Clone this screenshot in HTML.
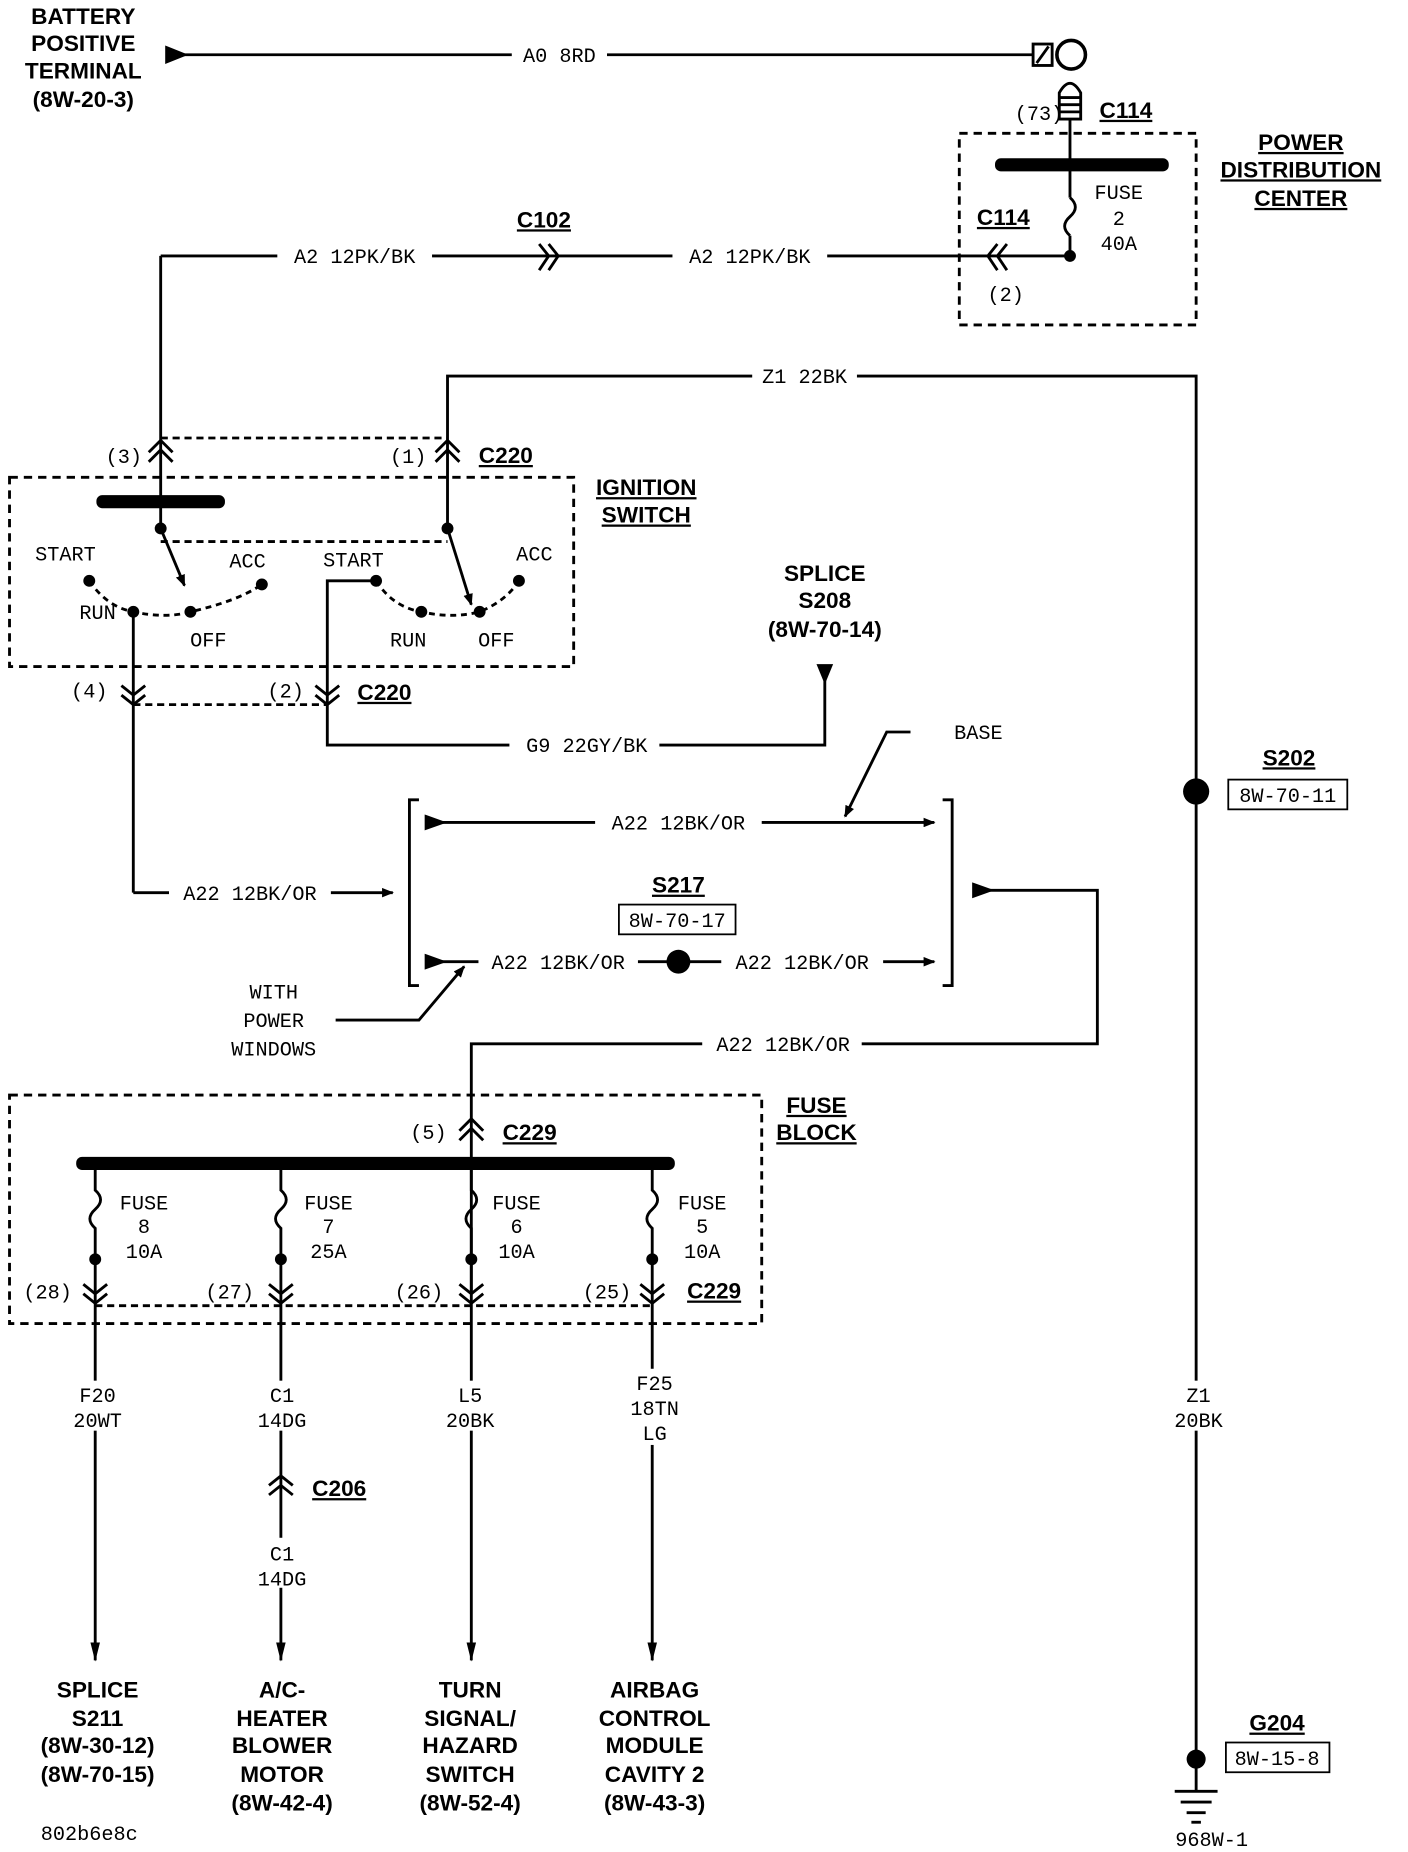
<!DOCTYPE html>
<html><head><meta charset="utf-8"><style>
html,body{margin:0;padding:0;background:#fff}
svg{display:block}
.t{font-family:"Liberation Mono",monospace;font-size:17px;fill:#000}
.b{font-family:"Liberation Sans",sans-serif;font-weight:bold;font-size:19px;fill:#000}
.u{text-decoration:underline}
</style></head><body>
<svg width="1408" height="1852" viewBox="0 0 1183 1556" preserveAspectRatio="none" xmlns="http://www.w3.org/2000/svg">
<defs>
<marker id="ar" markerWidth="10" markerHeight="8" refX="9" refY="4" orient="auto" markerUnits="userSpaceOnUse"><path d="M0,0 L10,4 L0,8 Z" fill="#000"/></marker>
<marker id="ad" markerWidth="16" markerHeight="10" refX="15" refY="5" orient="auto" markerUnits="userSpaceOnUse"><path d="M0,1 L16,5 L0,9 Z" fill="#000"/></marker>
</defs>
<g stroke="#000" stroke-width="2.4" fill="none">
<line x1="150" y1="46" x2="868" y2="46"/>
<path d="M140,40 L155,46 L140,52 Z" fill="#000"/>
<rect x="868" y="37" width="16" height="18"/>
<line x1="871" y1="53" x2="881" y2="39"/>
<circle cx="900" cy="46" r="12" stroke-width="3"/>
<path d="M890,100 L890,78 Q899,62 908,78 L908,100 Z"/>
<line x1="890" y1="82" x2="908" y2="82"/><line x1="890" y1="88" x2="908" y2="88"/><line x1="890" y1="94" x2="908" y2="94"/>
<rect x="806" y="112" width="199" height="161" stroke-dasharray="7,5"/>
<line x1="899" y1="100" x2="899" y2="166"/>
<path d="M899,166 q9,8 0,16 q-9,8 0,16"/>
<line x1="899" y1="198" x2="899" y2="215"/>
<line x1="135" y1="215" x2="899" y2="215"/>
<line x1="135" y1="215" x2="135" y2="440"/>
<path d="M838,205 L830,215 L838,227 M846,205 L838,215 L846,227"/>
<path d="M453,205 L461,215 L453,227 M461,205 L469,215 L461,227"/>
<polyline points="376,440 376,316 1005,316 1005,1478"/>
<line x1="135" y1="368" x2="376" y2="368" stroke-dasharray="6,4"/>
<path d="M125,380 L135,370 L145,380 M125,388 L135,378 L145,388"/>
<path d="M366,380 L376,370 L386,380 M366,388 L376,378 L386,388"/>
<rect x="8" y="401" width="474" height="159" stroke-dasharray="7,5"/>
<line x1="135" y1="455" x2="376" y2="455" stroke-dasharray="6,4"/>
<line x1="135" y1="444" x2="155" y2="492" marker-end="url(#ar)"/>
<line x1="376" y1="444" x2="396" y2="508" marker-end="url(#ar)"/>
<path d="M75,488 Q90,510 112,514 Q140,520 160,514 Q200,505 220,491" stroke-dasharray="5,4"/>
<path d="M316,488 Q330,510 354,514 Q380,520 403,514 Q425,505 436,488" stroke-dasharray="5,4"/>
<polyline points="316,488 275,488 275,626 693,626 693,565"/>
<line x1="112" y1="514" x2="112" y2="750"/>
<line x1="112" y1="750" x2="330" y2="750" marker-end="url(#ar)"/>
<line x1="112" y1="592" x2="275" y2="592" stroke-dasharray="6,4"/>
<path d="M102,576 L112,584 L122,576 M102,584 L112,592 L122,584"/>
<path d="M265,576 L275,584 L285,576 M265,584 L275,592 L285,584"/>
<polyline points="352,672 344,672 344,828 352,828"/>
<polyline points="792,672 800,672 800,828 792,828"/>
<line x1="360" y1="691" x2="785" y2="691" marker-end="url(#ar)"/>
<path d="M358,686 L372,691 L358,696 Z" fill="#000"/>
<line x1="360" y1="808" x2="785" y2="808" marker-end="url(#ar)"/>
<path d="M358,803 L372,808 L358,813 Z" fill="#000"/>
<polyline points="818,748 922,748 922,877 396,877 396,1085"/>
<path d="M818,743 L832,748 L818,753 Z" fill="#000"/>
<polyline points="765,615 745,615 710,686" marker-end="url(#ar)"/>
<polyline points="282,857 352,857 390,812" marker-end="url(#ar)"/>
<rect x="520" y="760" width="98" height="25" stroke-width="1.5"/>
<rect x="1032" y="655" width="100" height="25" stroke-width="1.5"/>
<rect x="8" y="920" width="632" height="192" stroke-dasharray="7,5"/>
<path d="M386,950 L396,940 L406,950 M386,958 L396,948 L406,958"/>
<line x1="80" y1="1097" x2="548" y2="1097" stroke-dasharray="6,4"/>
<path d="M80,977 L80,1000 q9,8 0,16 q-9,8 0,16 L80,1395" marker-end="url(#ad)"/>
<path d="M236,977 L236,1000 q9,8 0,16 q-9,8 0,16 L236,1395" marker-end="url(#ad)"/>
<path d="M396,977 L396,1000 q9,8 0,16 q-9,8 0,16 L396,1395" marker-end="url(#ad)"/>
<path d="M548,977 L548,1000 q9,8 0,16 q-9,8 0,16 L548,1395" marker-end="url(#ad)"/>
<path d="M70,1079 L80,1087 L90,1079 M70,1087 L80,1095 L90,1087"/>
<path d="M226,1079 L236,1087 L246,1079 M226,1087 L236,1095 L246,1087"/>
<path d="M386,1079 L396,1087 L406,1079 M386,1087 L396,1095 L406,1087"/>
<path d="M538,1079 L548,1087 L558,1079 M538,1087 L548,1095 L558,1087"/>
<path d="M226,1248 L236,1240 L246,1248 M226,1256 L236,1248 L246,1256"/>
<rect x="1030" y="1464" width="87" height="25" stroke-width="1.5"/>
<line x1="1005" y1="1478" x2="1005" y2="1505"/>
<line x1="987" y1="1505" x2="1023" y2="1505"/>
<line x1="992" y1="1514" x2="1018" y2="1514"/>
<line x1="997" y1="1523" x2="1013" y2="1523"/>
<line x1="1001" y1="1531" x2="1009" y2="1531"/>
</g>
<path d="M686,558 L700,558 L693,575 Z" fill="#000"/>
<g fill="#000">
<rect x="836" y="133" width="146" height="11" rx="5"/>
<rect x="81" y="416" width="108" height="11" rx="5"/>
<rect x="64" y="972" width="503" height="11" rx="5"/>
<circle cx="899" cy="215" r="5"/>
<circle cx="135" cy="444" r="5"/><circle cx="376" cy="444" r="5"/>
<circle cx="75" cy="488" r="5"/><circle cx="112" cy="514" r="5"/><circle cx="160" cy="514" r="5"/><circle cx="220" cy="491" r="5"/>
<circle cx="316" cy="488" r="5"/><circle cx="354" cy="514" r="5"/><circle cx="403" cy="514" r="5"/><circle cx="436" cy="488" r="5"/>
<circle cx="570" cy="808" r="10"/>
<circle cx="1005" cy="665" r="11"/>
<circle cx="1005" cy="1478" r="8"/>
<circle cx="80" cy="1058" r="5"/><circle cx="236" cy="1058" r="5"/><circle cx="396" cy="1058" r="5"/><circle cx="548" cy="1058" r="5"/>
</g>
<g fill="#fff">
<rect x="430" y="36" width="80" height="20"/>
<rect x="233" y="205" width="130" height="20"/>
<rect x="565" y="205" width="130" height="20"/>
<rect x="632" y="306" width="88" height="20"/>
<rect x="428" y="616" width="126" height="20"/>
<rect x="142" y="740" width="136" height="20"/>
<rect x="500" y="681" width="140" height="20"/>
<rect x="402" y="798" width="134" height="20"/>
<rect x="606" y="798" width="136" height="20"/>
<rect x="590" y="867" width="134" height="20"/>
<rect x="60" y="1160" width="44" height="42"/><rect x="212" y="1160" width="50" height="42"/><rect x="370" y="1160" width="50" height="42"/><rect x="525" y="1150" width="50" height="64"/>
<rect x="212" y="1292" width="50" height="42"/>
<rect x="982" y="1160" width="50" height="42"/>
</g>
<g class="t" text-anchor="middle">
<text x="470" y="52">A0 8RD</text>
<text x="873" y="101">(73)</text>
<text x="940" y="167">FUSE</text><text x="940" y="189">2</text><text x="940" y="210">40A</text>
<text x="845" y="253">(2)</text>
<text x="298" y="221">A2 12PK/BK</text>
<text x="630" y="221">A2 12PK/BK</text>
<text x="676" y="322">Z1 22BK</text>
<text x="104" y="389">(3)</text><text x="343" y="389">(1)</text>
<text x="55" y="471">START</text><text x="208" y="477">ACC</text><text x="82" y="520">RUN</text><text x="175" y="543">OFF</text>
<text x="297" y="476">START</text><text x="449" y="471">ACC</text><text x="343" y="543">RUN</text><text x="417" y="543">OFF</text>
<text x="75" y="586">(4)</text><text x="240" y="586">(2)</text>
<text x="493" y="632">G9 22GY/BK</text>
<text x="822" y="621">BASE</text>
<text x="570" y="697">A22 12BK/OR</text>
<text x="210" y="756">A22 12BK/OR</text>
<text x="569" y="779">8W-70-17</text>
<text x="469" y="814">A22 12BK/OR</text>
<text x="674" y="814">A22 12BK/OR</text>
<text x="658" y="883">A22 12BK/OR</text>
<text x="230" y="839">WITH</text><text x="230" y="863">POWER</text><text x="230" y="887">WINDOWS</text>
<text x="1082" y="674">8W-70-11</text>
<text x="360" y="957">(5)</text>
<text x="121" y="1016">FUSE</text><text x="121" y="1036">8</text><text x="121" y="1057">10A</text>
<text x="276" y="1016">FUSE</text><text x="276" y="1036">7</text><text x="276" y="1057">25A</text>
<text x="434" y="1016">FUSE</text><text x="434" y="1036">6</text><text x="434" y="1057">10A</text>
<text x="590" y="1016">FUSE</text><text x="590" y="1036">5</text><text x="590" y="1057">10A</text>
<text x="40" y="1091">(28)</text><text x="193" y="1091">(27)</text><text x="352" y="1091">(26)</text><text x="510" y="1091">(25)</text>
<text x="82" y="1178">F20</text><text x="82" y="1199">20WT</text>
<text x="237" y="1178">C1</text><text x="237" y="1199">14DG</text>
<text x="395" y="1178">L5</text><text x="395" y="1199">20BK</text>
<text x="550" y="1168">F25</text><text x="550" y="1189">18TN</text><text x="550" y="1210">LG</text>
<text x="237" y="1311">C1</text><text x="237" y="1332">14DG</text>
<text x="1007" y="1178">Z1</text><text x="1007" y="1199">20BK</text>
<text x="1073" y="1483">8W-15-8</text>
<text x="1018" y="1551">968W-1</text>
<text x="75" y="1546">802b6e8c</text>
</g>
<g class="b" text-anchor="middle">
<text x="70" y="20">BATTERY</text><text x="70" y="43">POSITIVE</text><text x="70" y="66">TERMINAL</text><text x="70" y="90">(8W-20-3)</text>
<text x="946" y="99" class="u">C114</text>
<text x="1093" y="126" class="u">POWER</text><text x="1093" y="149" class="u">DISTRIBUTION</text><text x="1093" y="173" class="u">CENTER</text>
<text x="457" y="191" class="u">C102</text>
<text x="843" y="189" class="u">C114</text>
<text x="425" y="389" class="u">C220</text>
<text x="543" y="416" class="u">IGNITION</text><text x="543" y="439" class="u">SWITCH</text>
<text x="323" y="588" class="u">C220</text>
<text x="693" y="488">SPLICE</text><text x="693" y="511">S208</text><text x="693" y="535">(8W-70-14)</text>
<text x="570" y="750" class="u">S217</text>
<text x="1083" y="643" class="u">S202</text>
<text x="686" y="935" class="u">FUSE</text><text x="686" y="958" class="u">BLOCK</text>
<text x="445" y="958" class="u">C229</text>
<text x="600" y="1091" class="u">C229</text>
<text x="285" y="1257" class="u">C206</text>
<text x="1073" y="1454" class="u">G204</text>
<text x="82" y="1426">SPLICE</text><text x="82" y="1450">S211</text><text x="82" y="1473">(8W-30-12)</text><text x="82" y="1497">(8W-70-15)</text>
<text x="237" y="1426">A/C-</text><text x="237" y="1450">HEATER</text><text x="237" y="1473">BLOWER</text><text x="237" y="1497">MOTOR</text><text x="237" y="1521">(8W-42-4)</text>
<text x="395" y="1426">TURN</text><text x="395" y="1450">SIGNAL/</text><text x="395" y="1473">HAZARD</text><text x="395" y="1497">SWITCH</text><text x="395" y="1521">(8W-52-4)</text>
<text x="550" y="1426">AIRBAG</text><text x="550" y="1450">CONTROL</text><text x="550" y="1473">MODULE</text><text x="550" y="1497">CAVITY 2</text><text x="550" y="1521">(8W-43-3)</text>
</g>
</svg>
</body></html>
